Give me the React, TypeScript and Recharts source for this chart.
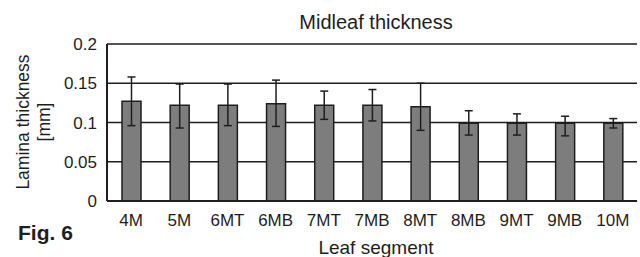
import { BarChart, Bar, XAxis, YAxis, CartesianGrid, ErrorBar, ReferenceLine } from 'recharts';

const segments = ['4M', '5M', '6MT', '6MB', '7MT', '7MB', '8MT', '8MB', '9MT', '9MB', '10M'];
const thickness = [0.127, 0.122, 0.122, 0.124, 0.122, 0.122, 0.12, 0.099, 0.099, 0.099, 0.099];
const errLow = [0.031, 0.029, 0.026, 0.029, 0.018, 0.02, 0.03, 0.015, 0.015, 0.016, 0.006];
const errHigh = [0.031, 0.027, 0.027, 0.03, 0.018, 0.02, 0.03, 0.016, 0.012, 0.009, 0.006];
const yTicks = [0, 0.05, 0.1, 0.15, 0.2];

const data = segments.map((name, i) => ({
  name,
  value: thickness[i],
  err: [errLow[i], errHigh[i]],
}));

// category boundaries, used for the small inner ticks along the x axis
const boundaries = segments.map((_, i) => i).slice(1);

const font = '"Liberation Sans", Arial, sans-serif';
const ink = '#1e1e1e';

export default function App() {
  return (
    <div
      style={{
        position: 'absolute',
        left: 0,
        top: 0,
        width: 640,
        height: 257,
        background: '#fff',
        fontFamily: font,
        color: ink,
      }}
    >
      <BarChart
        width={640}
        height={257}
        data={data}
        margin={{ top: 44, right: 3, bottom: 26, left: 47 }}
        barCategoryGap={0}
      >
        <CartesianGrid vertical={false} stroke={ink} strokeWidth={1.5} />
        <XAxis
          dataKey="name"
          height={30}
          tickLine={false}
          tickSize={0}
          tickMargin={13}
          axisLine={{ stroke: ink, strokeWidth: 2 }}
          tick={{ fill: ink, fontSize: 17, fontFamily: font }}
          interval={0}
        />
        <XAxis
          xAxisId="edges"
          type="number"
          domain={[0, segments.length]}
          ticks={boundaries}
          orientation="bottom"
          mirror
          height={10}
          tick={false}
          tickSize={3}
          axisLine={false}
          tickLine={{ stroke: ink, strokeWidth: 2 }}
        />
        <YAxis
          width={60}
          domain={[0, 0.2]}
          ticks={yTicks}
          tickLine={false}
          tickSize={0}
          tickMargin={10}
          axisLine={{ stroke: ink, strokeWidth: 2 }}
          tick={{ fill: ink, fontSize: 17, fontFamily: font }}
        />
        <ReferenceLine xAxisId="edges" x={segments.length} stroke={ink} strokeWidth={2} />
        <Bar
          dataKey="value"
          barSize={19}
          fill="#7d7d7d"
          stroke={ink}
          strokeWidth={1.5}
          isAnimationActive={false}
        >
          <ErrorBar dataKey="err" width={4} stroke={ink} strokeWidth={1.5} isAnimationActive={false} />
        </Bar>
      </BarChart>

      <div style={{ position: 'absolute', left: 266, width: 220, top: 11, textAlign: 'center', fontSize: 20 }}>
        Midleaf thickness
      </div>
      <div style={{ position: 'absolute', left: 276, width: 200, top: 237, textAlign: 'center', fontSize: 19 }}>
        Leaf segment
      </div>
      <div style={{ position: 'absolute', left: 18, top: 221, fontSize: 21, fontWeight: 'bold' }}>Fig. 6</div>
      <div
        style={{
          position: 'absolute',
          left: 34,
          top: 122,
          transform: 'translate(-50%, -50%) rotate(-90deg)',
          whiteSpace: 'nowrap',
          textAlign: 'center',
          fontSize: 17.5,
          lineHeight: '21px',
        }}
      >
        Lamina thickness
        <br />
        [mm]
      </div>
    </div>
  );
}
